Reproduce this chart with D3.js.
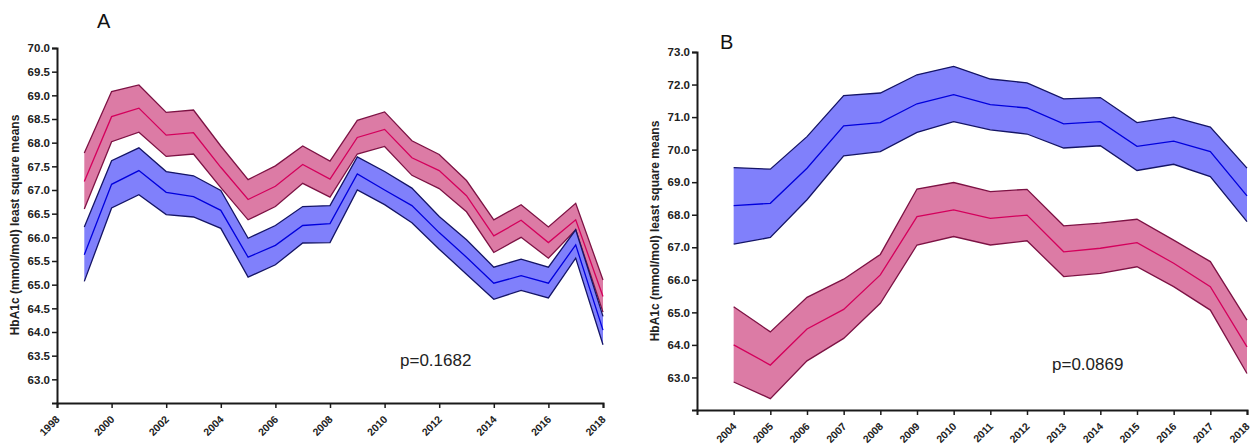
<!DOCTYPE html>
<html>
<head>
<meta charset="utf-8">
<script src="https://cdn.jsdelivr.net/npm/d3@7"></script>
<style>
  body { margin: 0; background: #fff; }
  svg { display: block; font-family: 'Liberation Sans', Arial, sans-serif; }
</style>
</head>
<body>
<div id="chart"></div>
<script>
// Panel A: 1999-2018
const yearsA = [1999, 2000, 2001, 2002, 2003, 2004, 2005, 2006, 2007, 2008,
  2009, 2010, 2011, 2012, 2013, 2014, 2015, 2016, 2017, 2018];
const pinkMeanA = [67.18, 68.55, 68.73, 68.16, 68.21, 67.48, 66.80, 67.08, 67.54, 67.23,
  68.11, 68.28, 67.68, 67.41, 66.88, 66.03, 66.36, 65.89, 66.37, 64.75];
const pinkUpperA = [67.78, 69.08, 69.22, 68.64, 68.69, 67.93, 67.22, 67.51, 67.93, 67.61,
  68.47, 68.65, 68.04, 67.75, 67.20, 66.37, 66.69, 66.22, 66.72, 65.10];
const pinkLowerA = [66.60, 68.02, 68.22, 67.71, 67.76, 67.05, 66.37, 66.65, 67.14, 66.85,
  67.76, 67.92, 67.31, 67.03, 66.54, 65.68, 66.00, 65.56, 66.16, 64.42];
const blueMeanA = [65.63, 67.12, 67.41, 66.95, 66.86, 66.57, 65.58, 65.83, 66.25, 66.29,
  67.34, 67.00, 66.67, 66.10, 65.58, 65.03, 65.19, 65.03, 65.84, 64.04];
const blueUpperA = [66.22, 67.62, 67.89, 67.39, 67.30, 66.99, 65.98, 66.25, 66.65, 66.67,
  67.70, 67.39, 67.04, 66.44, 65.95, 65.37, 65.54, 65.37, 66.16, 64.33];
const blueLowerA = [65.07, 66.62, 66.90, 66.48, 66.43, 66.19, 65.16, 65.42, 65.88, 65.89,
  67.00, 66.69, 66.31, 65.75, 65.22, 64.69, 64.88, 64.72, 65.56, 63.73];
const xTicksA = [1998, 2000, 2002, 2004, 2006, 2008, 2010, 2012, 2014, 2016, 2018];
const yTicksA = [63.0, 63.5, 64.0, 64.5, 65.0, 65.5, 66.0, 66.5, 67.0, 67.5, 68.0, 68.5, 69.0, 69.5, 70.0];

// Panel B: 2004-2018
const yearsB = [2004, 2005, 2006, 2007, 2008, 2009, 2010, 2011, 2012, 2013,
  2014, 2015, 2016, 2017, 2018];
const blueMeanB = [68.28, 68.35, 69.43, 70.73, 70.83, 71.41, 71.69, 71.38, 71.28, 70.79,
  70.86, 70.10, 70.26, 69.94, 68.58];
const blueUpperB = [69.45, 69.40, 70.40, 71.66, 71.74, 72.30, 72.56, 72.17, 72.05, 71.56,
  71.60, 70.83, 71.00, 70.69, 69.43];
const blueLowerB = [67.10, 67.30, 68.46, 69.81, 69.94, 70.53, 70.86, 70.61, 70.48, 70.05,
  70.12, 69.36, 69.55, 69.17, 67.79];
const pinkMeanB = [64.00, 63.38, 64.49, 65.09, 66.15, 67.94, 68.15, 67.89, 67.99, 66.86,
  66.97, 67.14, 66.51, 65.79, 63.94];
const pinkUpperB = [65.17, 64.40, 65.46, 66.02, 66.78, 68.79, 68.99, 68.71, 68.78, 67.66,
  67.74, 67.86, 67.22, 66.56, 64.76];
const pinkLowerB = [62.86, 62.35, 63.51, 64.20, 65.28, 67.07, 67.33, 67.07, 67.20, 66.10,
  66.20, 66.40, 65.79, 65.07, 63.12];
const yTicksB = [63.0, 64.0, 65.0, 66.0, 67.0, 68.0, 69.0, 70.0, 71.0, 72.0, 73.0];

const yTitle = 'HbA1c (mmol/mol) least square means';

const pinkStyle = { fill: '#dc7ba5', edge: '#7d1244', mean: '#d4005c' };
const blueStyle = { fill: '#8080fb', edge: '#141466', mean: '#0000dd' };

const svg = d3.select('#chart')
  .append('svg')
  .attr('width', 1255)
  .attr('height', 448);

function drawPanel(opts) {
  const g = svg.append('g');
  const x = d3.scaleLinear().domain(opts.xDomain).range([opts.left, opts.right]);
  const y = d3.scaleLinear().domain(opts.yDomain).range([opts.bottom, opts.top]);

  // bands
  opts.series.forEach((s) => {
    const rows = opts.years.map((yr, i) => ({
      year: yr, mean: s.mean[i], upper: s.upper[i], lower: s.lower[i]
    }));
    const area = d3.area()
      .x((d) => x(d.year))
      .y0((d) => y(d.lower))
      .y1((d) => y(d.upper));
    g.append('path')
      .datum(rows)
      .attr('fill', s.style.fill)
      .attr('d', area);
    ['upper', 'lower'].forEach((k) => {
      g.append('path')
        .datum(rows)
        .attr('fill', 'none')
        .attr('stroke', s.style.edge)
        .attr('stroke-width', 1.3)
        .attr('d', d3.line().x((d) => x(d.year)).y((d) => y(d[k])));
    });
    g.append('path')
      .datum(rows)
      .attr('fill', 'none')
      .attr('stroke', s.style.mean)
      .attr('stroke-width', 1.3)
      .attr('d', d3.line().x((d) => x(d.year)).y((d) => y(d.mean)));
  });

  // y axis
  const yAxis = g.append('g')
    .attr('transform', `translate(${opts.left},0)`)
    .call(d3.axisLeft(y).tickValues(opts.yTicks).tickFormat(d3.format('.1f')).tickSize(5).tickPadding(2));
  // x axis
  const xAxis = g.append('g')
    .attr('transform', `translate(0,${opts.bottom})`)
    .call(d3.axisBottom(x).tickValues(opts.xTicks).tickFormat(d3.format('d')).tickSize(5));

  [yAxis, xAxis].forEach((ax) => {
    ax.select('.domain').attr('stroke', '#1a1a1a').attr('stroke-width', 2);
    ax.selectAll('.tick line').attr('stroke', '#1a1a1a').attr('stroke-width', 1.5);
    ax.selectAll('text')
      .attr('fill', '#222')
      .style('font-weight', 'bold')
      .style('font-size', '11.5px');
  });
  xAxis.selectAll('text')
    .attr('x', 0)
    .attr('y', 0)
    .attr('dy', 0)
    .attr('text-anchor', 'end')
    .style('font-size', '10.5px')
    .attr('transform', 'translate(3,17) rotate(-45)');

  // axis title
  g.append('text')
    .attr('transform', `translate(${opts.titleX},${opts.titleY}) rotate(-90)`)
    .attr('text-anchor', 'middle')
    .style('font-weight', 'bold')
    .style('font-size', '12px')
    .attr('fill', '#222')
    .text(yTitle);

  // panel letter
  g.append('text')
    .attr('x', opts.letterX)
    .attr('y', opts.letterY)
    .style('font-size', '20px')
    .attr('fill', '#111')
    .text(opts.letter);

  // p value
  g.append('text')
    .attr('x', opts.pX)
    .attr('y', opts.pY)
    .style('font-size', '17px')
    .attr('fill', '#222')
    .text(opts.pText);
}

drawPanel({
  years: yearsA,
  series: [
    { mean: pinkMeanA, upper: pinkUpperA, lower: pinkLowerA, style: pinkStyle },
    { mean: blueMeanA, upper: blueUpperA, lower: blueLowerA, style: blueStyle }
  ],
  xDomain: [1998, 2018], yDomain: [62.5, 70.0],
  left: 57, right: 603, top: 48, bottom: 403,
  xTicks: xTicksA, yTicks: yTicksA,
  titleX: 19, titleY: 225,
  letter: 'A', letterX: 97, letterY: 28,
  pText: 'p=0.1682', pX: 400, pY: 366
});

drawPanel({
  years: yearsB,
  series: [
    { mean: blueMeanB, upper: blueUpperB, lower: blueLowerB, style: blueStyle },
    { mean: pinkMeanB, upper: pinkUpperB, lower: pinkLowerB, style: pinkStyle }
  ],
  xDomain: [2003, 2018], yDomain: [62.0, 73.0],
  left: 697, right: 1247, top: 52, bottom: 410,
  xTicks: yearsB, yTicks: yTicksB,
  titleX: 659, titleY: 231,
  letter: 'B', letterX: 720, letterY: 49,
  pText: 'p=0.0869', pX: 1052, pY: 370
});
</script>
</body>
</html>
